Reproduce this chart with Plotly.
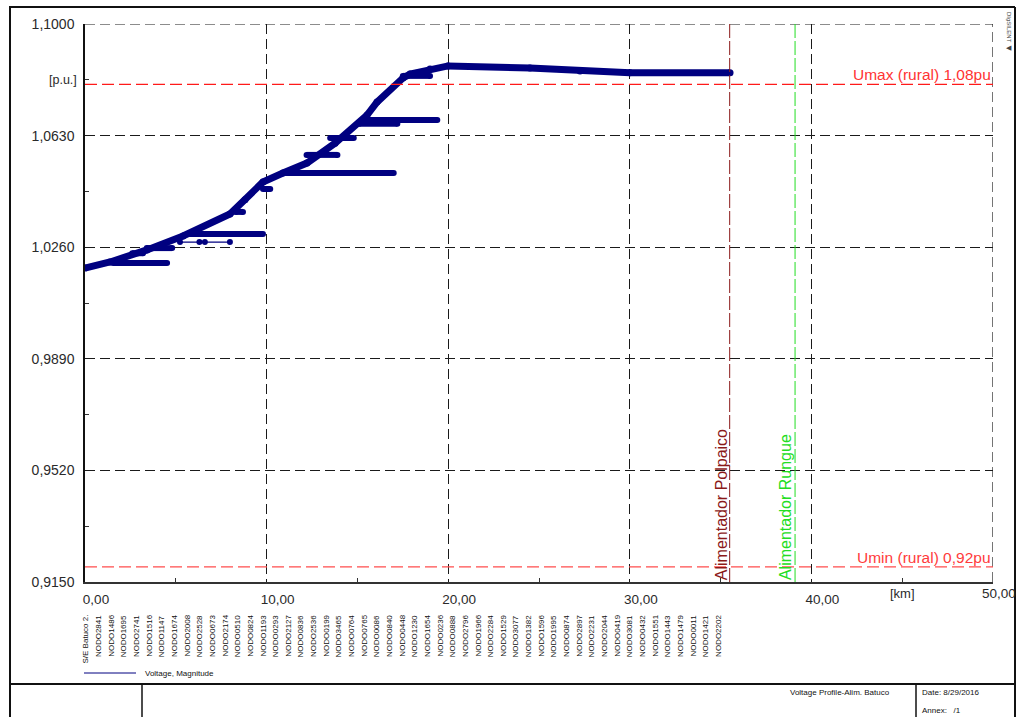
import numpy as np
import plotly.graph_objects as go

# ---------------------------------------------------------------- data
# Main feeder trunk: distance from S/E Batuco [km] and voltage [p.u.]
trunk_km = [0.00, 1.38, 3.41, 5.40, 7.98, 8.81, 9.80, 10.90, 12.22, 13.77,
            15.53, 16.08, 17.51, 17.90, 19.00, 19.99, 24.50, 27.26, 30.01, 35.52]
trunk_pu = [1.0191, 1.0211, 1.0251, 1.0297, 1.0370, 1.0417, 1.0476, 1.0506, 1.0539, 1.0605,
            1.0698, 1.0741, 1.0821, 1.0834, 1.0851, 1.0861, 1.0854, 1.0844, 1.0838, 1.0838]

# Laterals branching off the trunk
branch_km = [[1.54, 4.52], [5.78, 9.80], [11.00, 17.00], [15.30, 19.40], [15.10, 17.20],
             [17.50, 19.00], [12.20, 13.90], [13.50, 14.80], [8.30, 8.70], [9.80, 10.20],
             [3.40, 4.80], [2.60, 3.20]]
branch_pu = [[1.0208, 1.0208], [1.0304, 1.0304], [1.0506, 1.0506], [1.0682, 1.0682], [1.0669, 1.0669],
             [1.0828, 1.0828], [1.0566, 1.0566], [1.0622, 1.0622], [1.0377, 1.0377], [1.0453, 1.0453],
             [1.0257, 1.0257], [1.0240, 1.0240]]

# Thin lateral drawn with node markers
probe_km = [5.23, 6.30, 6.60, 7.98]
probe_pu = [1.0277, 1.0277, 1.0277, 1.0277]

node_labels = ["S/E Batuco 2.",
               "NODO2841", "NODO1486", "NODO1695", "NODO2741", "NODO1516", "NODO1147", "NODO1674",
               "NODO2008", "NODO2528", "NODO0673", "NODO2174", "NODO0510", "NODO0824", "NODO1193",
               "NODO0293", "NODO2127", "NODO0836", "NODO2536", "NODO0199", "NODO3465", "NODO0764",
               "NODO0765", "NODO0086", "NODO0840", "NODO0448", "NODO1230", "NODO1654", "NODO0236",
               "NODO0888", "NODO2796", "NODO1966", "NODO2284", "NODO1529", "NODO3077", "NODO1382",
               "NODO1596", "NODO1995", "NODO0874", "NODO2897", "NODO2231", "NODO2044", "NODO0419",
               "NODO3081", "NODO0432", "NODO1551", "NODO1443", "NODO1479", "NODO0011", "NODO1421",
               "NODO2202"]

x_ticks = [0, 10, 20, 30, 40, 50]
x_tick_text = ["0,00", "10,00", "20,00", "30,00", "40,00", "50,00"]
y_ticks = [0.915, 0.952, 0.989, 1.026, 1.063, 1.100]
y_tick_text = ["0,9150", "0,9520", "0,9890", "1,0260", "1,0630", "1,1000"]

umax_pu = 1.08
umin_pu = 0.92
polpaico_km = 35.5
rungue_km = 39.1

# ---------------------------------------------------------------- layout helpers
W, H = 1019, 717
L, R, T, B = 85, 993, 24, 582          # plot area in page pixels


def px(x):
    return (x - L) / (R - L)


def py(y):
    return (B - y) / (B - T)


NAVY = "#000080"
FONT = "Arial, Liberation Sans, sans-serif"
TXT = "#2a2a2a"
GRID_DASH = "10px,5px"

fig = go.Figure()

# trunk
fig.add_trace(go.Scatter(x=trunk_km, y=trunk_pu, mode="lines+markers", name="Voltage, Magnitude",
                         line=dict(color=NAVY, width=7), marker=dict(color=NAVY, size=7),
                         showlegend=False, hoverinfo="skip"))
# laterals
for bk, bp in zip(branch_km, branch_pu):
    fig.add_trace(go.Scatter(x=bk, y=bp, mode="lines+markers",
                             line=dict(color=NAVY, width=6), marker=dict(color=NAVY, size=6),
                             showlegend=False, hoverinfo="skip"))
fig.add_trace(go.Scatter(x=probe_km, y=probe_pu, mode="lines+markers",
                         line=dict(color=NAVY, width=1.2), marker=dict(color=NAVY, size=6),
                         showlegend=False, hoverinfo="skip"))

shapes = []
# grid lines on the upper and right edges of the diagram
shapes.append(dict(type="line", xref="paper", yref="y", x0=0, x1=1, y0=y_ticks[-1], y1=y_ticks[-1],
                   line=dict(color="#1a1a1a", width=1.2, dash=GRID_DASH)))
shapes.append(dict(type="line", xref="x", yref="paper", x0=x_ticks[-1], x1=x_ticks[-1], y0=0, y1=1,
                   line=dict(color="#1a1a1a", width=1.2, dash=GRID_DASH)))
# voltage limits
shapes.append(dict(type="line", xref="paper", yref="y", x0=0, x1=1, y0=umax_pu, y1=umax_pu,
                   line=dict(color="#ff1a1a", width=1.2, dash="12px,5px")))
shapes.append(dict(type="line", xref="paper", yref="y", x0=0, x1=1, y0=umin_pu, y1=umin_pu,
                   line=dict(color="#ff4d4d", width=1.2, dash="12px,5px")))
# feeder boundaries
shapes.append(dict(type="line", xref="x", yref="paper", x0=polpaico_km, x1=polpaico_km, y0=0, y1=1,
                   line=dict(color="#8b1a1a", width=1, dash="14px,3px")))
shapes.append(dict(type="line", xref="x", yref="paper", x0=rungue_km, x1=rungue_km, y0=0, y1=1,
                   line=dict(color="#22dd22", width=1, dash="14px,3px")))
# legend key
shapes.append(dict(type="line", xref="paper", yref="paper", x0=px(84), x1=px(136),
                   y0=py(673), y1=py(673), line=dict(color=NAVY, width=1)))


# page frame and title block
def frame_line(x0, y0, x1, y1, w=2):
    shapes.append(dict(type="line", xref="paper", yref="paper",
                       x0=px(x0), y0=py(y0), x1=px(x1), y1=py(y1),
                       line=dict(color="#111111", width=w)))


frame_line(9, 7, 1015, 7)
frame_line(10, 7, 10, 717)
frame_line(1015, 7, 1015, 717)
frame_line(10, 684, 1015, 684)
frame_line(142, 684, 142, 717, 1.5)
frame_line(916, 684, 916, 717, 1.5)

annotations = []
# node labels along the profile
node_km = np.concatenate([[0.0], np.linspace(0.72, 34.85, len(node_labels) - 1)])
for k, lab in zip(node_km, node_labels):
    annotations.append(dict(x=k, y=py(613), xref="x", yref="paper", text=lab, showarrow=False,
                            textangle=-90, xanchor="center", yanchor="top",
                            font=dict(family=FONT, size=8, color="#111111")))

annotations += [
    # last distance label sits against the right page edge
    dict(x=px(1018), y=py(593), xref="paper", yref="paper", text=x_tick_text[-1], showarrow=False,
         xanchor="right", yanchor="middle", font=dict(family=FONT, size=13.5, color=TXT)),
    dict(x=1, y=umax_pu, xref="paper", yref="y", text="Umax (rural) 1,08pu", showarrow=False,
         xanchor="right", yanchor="bottom", yshift=-1, font=dict(family=FONT, size=15.5, color="#ff3333")),
    dict(x=1, y=umin_pu, xref="paper", yref="y", text="Umin (rural) 0,92pu", showarrow=False,
         xanchor="right", yanchor="bottom", yshift=-1, font=dict(family=FONT, size=15.5, color="#ff3b3b")),
    dict(x=polpaico_km, y=0, xref="x", yref="paper", text="Alimentador Polpaico", showarrow=False,
         textangle=-90, xanchor="center", yanchor="bottom", xshift=-8,
         font=dict(family=FONT, size=16, color="#8b1a1a")),
    dict(x=rungue_km, y=0, xref="x", yref="paper", text="Alimentador Rungue", showarrow=False,
         textangle=-90, xanchor="center", yanchor="bottom", xshift=-10,
         font=dict(family=FONT, size=16, color="#22dd22")),
    dict(x=px(79), y=1.0815, xref="paper", yref="y", text="[p.u.]", showarrow=False,
         xanchor="right", yanchor="middle", font=dict(family=FONT, size=12.5, color=TXT)),
    dict(x=45, y=py(593), xref="x", yref="paper", text="[km]", showarrow=False,
         xanchor="center", yanchor="middle", font=dict(family=FONT, size=13, color=TXT)),
    dict(x=px(143), y=py(673), xref="paper", yref="paper", text="Voltage, Magnitude",
         showarrow=False, xanchor="left", yanchor="middle", font=dict(family=FONT, size=8, color="#111")),
    dict(x=px(788), y=py(692), xref="paper", yref="paper", text="Voltage Profile-Alim. Batuco",
         showarrow=False, xanchor="left", yanchor="middle", font=dict(family=FONT, size=8, color="#111")),
    dict(x=px(920), y=py(692), xref="paper", yref="paper", text="Date: 8/29/2016",
         showarrow=False, xanchor="left", yanchor="middle", font=dict(family=FONT, size=8, color="#111")),
    dict(x=px(920), y=py(710), xref="paper", yref="paper", text="Annex:   /1",
         showarrow=False, xanchor="left", yanchor="middle", font=dict(family=FONT, size=8, color="#111")),
    dict(x=px(1009), y=py(28), xref="paper", yref="paper", text="DIgSILENT",
         showarrow=False, textangle=90, xanchor="center", yanchor="middle",
         font=dict(family=FONT, size=6, color="#444")),
    dict(x=px(1009), y=py(47), xref="paper", yref="paper", text="◀",
         showarrow=False, xanchor="center", yanchor="middle",
         font=dict(family=FONT, size=7, color="#444")),
]

fig.update_layout(
    width=W, height=H,
    margin=dict(l=L, r=W - R, t=T, b=H - B, pad=0, autoexpand=False),
    paper_bgcolor="white", plot_bgcolor="white",
    font=dict(family=FONT, color=TXT),
    shapes=shapes, annotations=annotations,
    showlegend=False,
)

fig.update_xaxes(range=[0, 50], tickmode="array", tickvals=x_ticks[:-1], ticktext=x_tick_text[:-1],
                 automargin=False,
                 showgrid=True, gridcolor="#1a1a1a", gridwidth=1.2, griddash=GRID_DASH,
                 showline=True, linecolor="#333333", linewidth=1.5, zeroline=False,
                 ticks="", ticklabelshift=11, ticklabelstandoff=4,
                 tickfont=dict(family=FONT, size=13.5, color=TXT),
                 minor=dict(tickvals=[5, 15, 25, 35, 45], ticks="inside", ticklen=4,
                            tickcolor="#333333", showgrid=False))
fig.update_yaxes(range=[0.915, 1.1], tickmode="array", tickvals=y_ticks, ticktext=y_tick_text,
                 automargin=False,
                 showgrid=True, gridcolor="#1a1a1a", gridwidth=1.2, griddash=GRID_DASH,
                 showline=True, linecolor="#111111", linewidth=1.5, zeroline=False,
                 ticks="", ticklabelstandoff=6, ticklabeloverflow="allow",
                 tickfont=dict(family=FONT, size=14, color=TXT),
                 minor=dict(tickvals=[0.9335, 0.9705, 1.0075, 1.0445, 1.0815], ticks="inside",
                            ticklen=4, tickcolor="#333333", showgrid=False))

fig.write_html("out.html")
